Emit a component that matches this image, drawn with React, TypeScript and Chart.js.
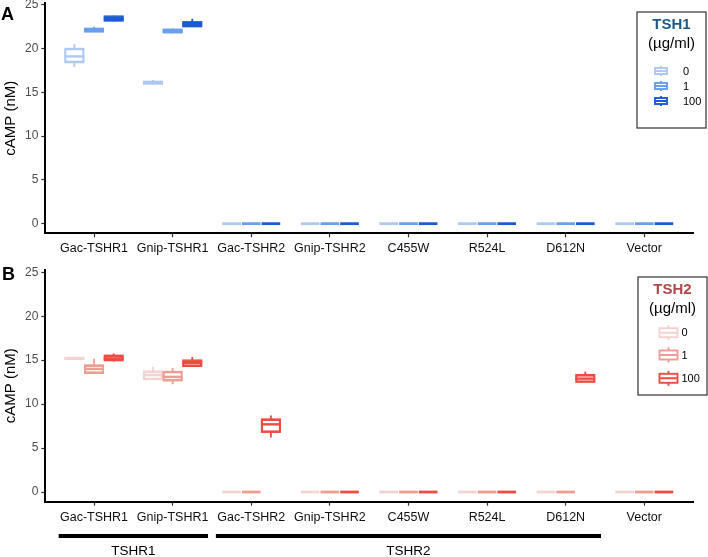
import React, { useEffect, useRef } from 'react';
import { Chart, registerables } from 'chart.js';

Chart.register(...registerables);

// ---------- DATA ----------
const categories = ['Gac-TSHR1', 'Gnip-TSHR1', 'Gac-TSHR2', 'Gnip-TSHR2', 'C455W', 'R524L', 'D612N', 'Vector'];
const doseLabels = ['0', '1', '100'];
const yTicks = [0, 5, 10, 15, 20, 25];

// box statistics per category: [min, q1, median, q3, max] (cAMP, nM)
const tsh1Dose0 = [
  [17.9, 18.4, 19.1, 20.0, 20.5], [15.9, 15.95, 16.1, 16.25, 16.4],
  [0, 0, 0, 0, 0], [0, 0, 0, 0, 0], [0, 0, 0, 0, 0], [0, 0, 0, 0, 0], [0, 0, 0, 0, 0], [0, 0, 0, 0, 0],
];
const tsh1Dose1 = [
  [21.9, 21.9, 22.1, 22.3, 22.5], [21.75, 21.8, 22.0, 22.2, 22.3],
  [0, 0, 0, 0, 0], [0, 0, 0, 0, 0], [0, 0, 0, 0, 0], [0, 0, 0, 0, 0], [0, 0, 0, 0, 0], [0, 0, 0, 0, 0],
];
const tsh1Dose100 = [
  [23.1, 23.15, 23.4, 23.7, 23.75], [22.45, 22.5, 22.8, 23.05, 23.4],
  [0, 0, 0, 0, 0], [0, 0, 0, 0, 0], [0, 0, 0, 0, 0], [0, 0, 0, 0, 0], [0, 0, 0, 0, 0], [0, 0, 0, 0, 0],
];
const tsh2Dose0 = [
  [15.1, 15.1, 15.2, 15.3, 15.3], [12.8, 12.8, 13.3, 13.75, 14.25],
  [0, 0, 0, 0, 0], [0, 0, 0, 0, 0], [0, 0, 0, 0, 0], [0, 0, 0, 0, 0], [0, 0, 0, 0, 0], [0, 0, 0, 0, 0],
];
const tsh2Dose1 = [
  [13.5, 13.5, 14.0, 14.45, 15.15], [12.25, 12.65, 13.1, 13.7, 14.1],
  [0, 0, 0, 0, 0], [0, 0, 0, 0, 0], [0, 0, 0, 0, 0], [0, 0, 0, 0, 0], [0, 0, 0, 0, 0], [0, 0, 0, 0, 0],
];
const tsh2Dose100 = [
  [14.85, 14.95, 15.2, 15.55, 15.75], [14.25, 14.3, 14.7, 15.0, 15.35],
  [6.2, 6.8, 7.7, 8.3, 8.7], [0, 0, 0, 0, 0], [0, 0, 0, 0, 0], [0, 0, 0, 0, 0],
  [12.5, 12.5, 12.9, 13.35, 13.7], [0, 0, 0, 0, 0],
];

const groupLabels = ['TSHR1', 'TSHR2'];
const groupFirst = [0, 2];
const groupLast = [1, 6];

// ---------- STYLE / LAYOUT ----------
const FONT = '"Liberation Sans", Arial, Helvetica, sans-serif';
const tsh1Colors = ['#aec8f2', '#6a9fec', '#1c5bd3'];
const tsh2Colors = ['#f3d3d1', '#ee9d94', '#ee4b43'];

type Legend = {
  title: string; titleColor: string; left: number; top: number; w: number; h: number;
  titleY: number; subY: number; itemY: number[]; gx: number; gw: number; gh: number; wl: number; lx: number;
};
type Panel = {
  letter: string; letterX: number; letterY: number; top: number; height: number; padTop: number; xAxisH: number;
  yMax: number; colors: string[]; series: number[][][]; legend: Legend; groups: boolean;
};

const panelA: Panel = {
  letter: 'A', letterX: 1, letterY: 20, top: 0, height: 262, padTop: 3, xAxisH: 28.7, yMax: 25.2,
  colors: tsh1Colors, series: [tsh1Dose0, tsh1Dose1, tsh1Dose100], groups: false,
  legend: { title: 'TSH1', titleColor: '#1b5a8a', left: 637, top: 12, w: 69, h: 116, titleY: 25, subY: 44,
    itemY: [71, 86, 101], gx: 661, gw: 12, gh: 6, wl: 2, lx: 683 },
};
const panelB: Panel = {
  letter: 'B', letterX: 2, letterY: 18, top: 262, height: 295, padTop: 7.6, xAxisH: 55.3, yMax: 25.3,
  colors: tsh2Colors, series: [tsh2Dose0, tsh2Dose1, tsh2Dose100], groups: true,
  legend: { title: 'TSH2', titleColor: '#b1474a', left: 638, top: 15, w: 69, h: 118, titleY: 28, subY: 47.3,
    itemY: [70.7, 93, 116.3], gx: 668.5, gw: 18, gh: 9, wl: 3, lx: 681.5 },
};

function drawGlyph(ctx: CanvasRenderingContext2D, cx: number, cy: number, w: number, h: number, wl: number, color: string) {
  ctx.save();
  ctx.strokeStyle = color;
  ctx.fillStyle = '#fff';
  ctx.lineWidth = 1.9;
  ctx.fillRect(cx - w / 2, cy - h / 2, w, h);
  ctx.strokeRect(cx - w / 2, cy - h / 2, w, h);
  ctx.beginPath();
  ctx.moveTo(cx - w / 2, cy); ctx.lineTo(cx + w / 2, cy);
  ctx.moveTo(cx, cy - h / 2); ctx.lineTo(cx, cy - h / 2 - wl);
  ctx.moveTo(cx, cy + h / 2); ctx.lineTo(cx, cy + h / 2 + wl);
  ctx.stroke();
  ctx.restore();
}

function PanelChart({ panel }: { panel: Panel }) {
  const ref = useRef<HTMLCanvasElement | null>(null);
  useEffect(() => {
    if (!ref.current) return;
    const p = panel;
    const boxPlugin = {
      id: 'boxExtras',
      afterDatasetsDraw(chart: any) {
        const ctx = chart.ctx as CanvasRenderingContext2D;
        const ys = chart.scales.y;
        chart.data.datasets.forEach((ds: any, j: number) => {
          const meta = chart.getDatasetMeta(j);
          meta.data.forEach((el: any, i: number) => {
            const [mn, q1, md, q3, mx] = ds.stats[i];
            const x = el.x;
            const w = el.width;
            ctx.save();
            ctx.strokeStyle = ds.borderColor;
            ctx.lineCap = 'butt';
            if (mx === 0 && mn === 0) {
              ctx.lineWidth = 2.8;
              const y0 = ys.getPixelForValue(0);
              ctx.beginPath();
              ctx.moveTo(x - w / 2 + 0.5, y0);
              ctx.lineTo(x + w / 2 - 0.5, y0);
              ctx.stroke();
            } else {
              const yq1 = ys.getPixelForValue(q1);
              const yq3 = ys.getPixelForValue(q3);
              // edge-centred outline like ggplot
              ctx.lineWidth = 1.4;
              ctx.strokeRect(x - w / 2 + 0.5, yq3, w - 1, yq1 - yq3);
              ctx.lineWidth = 2.4;
              const ym = ys.getPixelForValue(md);
              ctx.beginPath();
              ctx.moveTo(x - w / 2, ym);
              ctx.lineTo(x + w / 2, ym);
              ctx.stroke();
              ctx.lineWidth = 1.8;
              ctx.beginPath();
              if (mx > q3) {
                ctx.moveTo(x, yq3);
                ctx.lineTo(x, ys.getPixelForValue(mx));
              }
              if (mn < q1) {
                ctx.moveTo(x, yq1);
                ctx.lineTo(x, ys.getPixelForValue(mn));
              }
              ctx.stroke();
            }
            ctx.restore();
          });
        });
      },
      afterDraw(chart: any) {
        const ctx = chart.ctx as CanvasRenderingContext2D;
        const L = p.legend;
        ctx.save();
        // panel letter
        ctx.fillStyle = '#000';
        ctx.font = `bold 18px ${FONT}`;
        ctx.textAlign = 'left';
        ctx.textBaseline = 'alphabetic';
        ctx.fillText(p.letter, p.letterX, p.letterY);
        // legend
        ctx.fillStyle = '#fff';
        ctx.fillRect(L.left, L.top, L.w, L.h);
        ctx.strokeStyle = '#333';
        ctx.lineWidth = 1.2;
        ctx.strokeRect(L.left, L.top, L.w, L.h);
        const cx = L.left + L.w / 2;
        ctx.textAlign = 'center';
        ctx.textBaseline = 'middle';
        ctx.fillStyle = L.titleColor;
        ctx.font = `bold 15px ${FONT}`;
        ctx.fillText(L.title, cx, L.titleY);
        ctx.fillStyle = '#000';
        ctx.font = `15px ${FONT}`;
        ctx.fillText('(µg/ml)', cx, L.subY);
        doseLabels.forEach((lab, k) => {
          drawGlyph(ctx, L.gx, L.itemY[k], L.gw, L.gh, L.wl, p.colors[k]);
          ctx.fillStyle = '#000';
          ctx.font = `11px ${FONT}`;
          ctx.textAlign = 'left';
          ctx.fillText(lab, L.lx, L.itemY[k] + 0.5);
        });
        // group bars
        if (p.groups) {
          const xs = chart.scales.x;
          groupLabels.forEach((g, k) => {
            const x1 = xs.getPixelForValue(groupFirst[k] - 0.45);
            const x2 = xs.getPixelForValue(groupLast[k] + 0.45);
            ctx.fillStyle = '#000';
            ctx.fillRect(x1, 272, x2 - x1, 4);
            ctx.font = `13.5px ${FONT}`;
            ctx.textAlign = 'center';
            ctx.textBaseline = 'middle';
            ctx.fillText(g, (x1 + x2) / 2, 289.5);
          });
        }
        ctx.restore();
      },
    };

    const datasets = p.series.map((s, j) => ({
      label: doseLabels[j],
      data: s.map((st, i) => ({ x: i, y: [st[1], st[3]] })),
      stats: s,
      backgroundColor: '#ffffff',
      borderColor: p.colors[j],
      borderWidth: 2,
      borderSkipped: false,
      categoryPercentage: 0.75,
      barPercentage: 1,
    }));

    const gridOpts = { display: true, offset: false, drawOnChartArea: false, drawTicks: true, tickLength: 4, color: '#333', tickColor: '#333', tickWidth: 1.2 };
    const borderOpts = { display: true, color: '#000', width: 2 };

    const chart = new Chart(ref.current, {
      type: 'bar',
      data: { datasets: datasets as any },
      options: {
        animation: false,
        responsive: false,
        devicePixelRatio: 1,
        layout: { padding: { top: p.padTop, right: 15, bottom: 0, left: 0 } },
        plugins: { legend: { display: false }, tooltip: { enabled: false } },
        scales: {
          x: {
            type: 'linear',
            min: -0.62,
            max: 7.62,
            offset: false,
            afterBuildTicks: (s: any) => { s.ticks = categories.map((_, i) => ({ value: i })); },
            afterFit: (s: any) => { s.height = p.xAxisH; s.paddingLeft = 0; s.paddingRight = 0; },
            ticks: {
              autoSkip: false, maxRotation: 0, minRotation: 0, color: '#111', padding: 4,
              font: { size: 12.5, family: FONT },
              callback: (v: any) => categories[v as number] ?? '',
            },
            grid: gridOpts as any,
            border: borderOpts as any,
          },
          y: {
            type: 'linear',
            min: -1.1,
            max: p.yMax,
            afterBuildTicks: (s: any) => { s.ticks = yTicks.map((v) => ({ value: v })); },
            afterFit: (s: any) => { s.width = 45.3; s.paddingTop = 0; s.paddingBottom = 0; },
            ticks: { color: '#4d4d4d', padding: 3, font: { size: 12, family: FONT } },
            grid: gridOpts as any,
            border: borderOpts as any,
            title: { display: true, text: 'cAMP (nM)', color: '#000', font: { size: 15, family: FONT }, padding: { top: 2, bottom: 0 } },
          },
        },
      } as any,
      plugins: [boxPlugin],
    });
    return () => chart.destroy();
  }, [panel]);

  return (
    <canvas
      ref={ref}
      width={708}
      height={panel.height}
      style={{ position: 'absolute', left: 0, top: panel.top, width: 708, height: panel.height }}
    />
  );
}

export default function App() {
  return (
    <div style={{ position: 'fixed', left: 0, top: 0, width: 708, height: 557, background: '#fff', overflow: 'hidden' }}>
      <PanelChart panel={panelA} />
      <PanelChart panel={panelB} />
    </div>
  );
}
